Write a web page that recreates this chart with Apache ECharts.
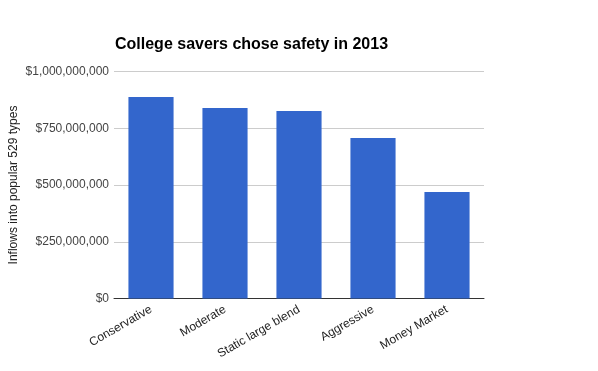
<!DOCTYPE html>
<html>
<head>
<meta charset="utf-8">
<script src="https://cdn.jsdelivr.net/npm/echarts@6/dist/echarts.min.js"></script>
<style>html,body{margin:0;padding:0;background:#fff}#c{width:598px;height:371px}</style>
</head>
<body>
<div id="c"></div>
<script>
var categories = ["Conservative", "Moderate", "Static large blend", "Aggressive", "Money Market"];
var inflows = [888000000, 839000000, 826000000, 707000000, 469000000];
var yTicks = [0, 250000000, 500000000, 750000000, 1000000000];

function fmt(v) {
  return "$" + String(v).replace(/\B(?=(\d{3})+(?!\d))/g, ",");
}

var chart = echarts.init(document.getElementById('c'), null, {renderer: 'canvas'});
chart.setOption({
  animation: false,
  title: {
    text: "College savers chose safety in 2013",
    left: 115, top: 37, padding: 0,
    textStyle: {fontFamily: "Liberation Sans, Arial, sans-serif", fontSize: 16, fontWeight: "bold", color: "#000"}
  },
  grid: {left: 114, right: 114, top: 71.5, bottom: 72.5, containLabel: false, outerBoundsMode: "none"},
  xAxis: {
    type: "category",
    data: categories,
    axisTick: {show: false},
    axisLine: {lineStyle: {color: "#333", width: 1}},
    axisLabel: {rotate: 30, margin: 10, fontFamily: "Liberation Sans, Arial, sans-serif", fontSize: 12, color: "#222", interval: 0}
  },
  yAxis: {
    type: "value",
    min: yTicks[0], max: yTicks[yTicks.length - 1], interval: yTicks[1] - yTicks[0],
    name: "Inflows into popular 529 types",
    nameLocation: "middle", nameGap: 94, nameRotate: 90, nameMoveOverlap: false,
    nameTextStyle: {fontFamily: "Liberation Sans, Arial, sans-serif", fontSize: 12, color: "#222"},
    axisLine: {show: false}, axisTick: {show: false},
    splitLine: {lineStyle: {color: "#ccc", width: 1}},
    axisLabel: {formatter: fmt, margin: 5, fontFamily: "Liberation Sans, Arial, sans-serif", fontSize: 12, color: "#444"}
  },
  series: [{
    type: "bar",
    data: inflows,
    barWidth: "61%",
    itemStyle: {color: "#3366cc"}
  }]
});
</script>
</body>
</html>
